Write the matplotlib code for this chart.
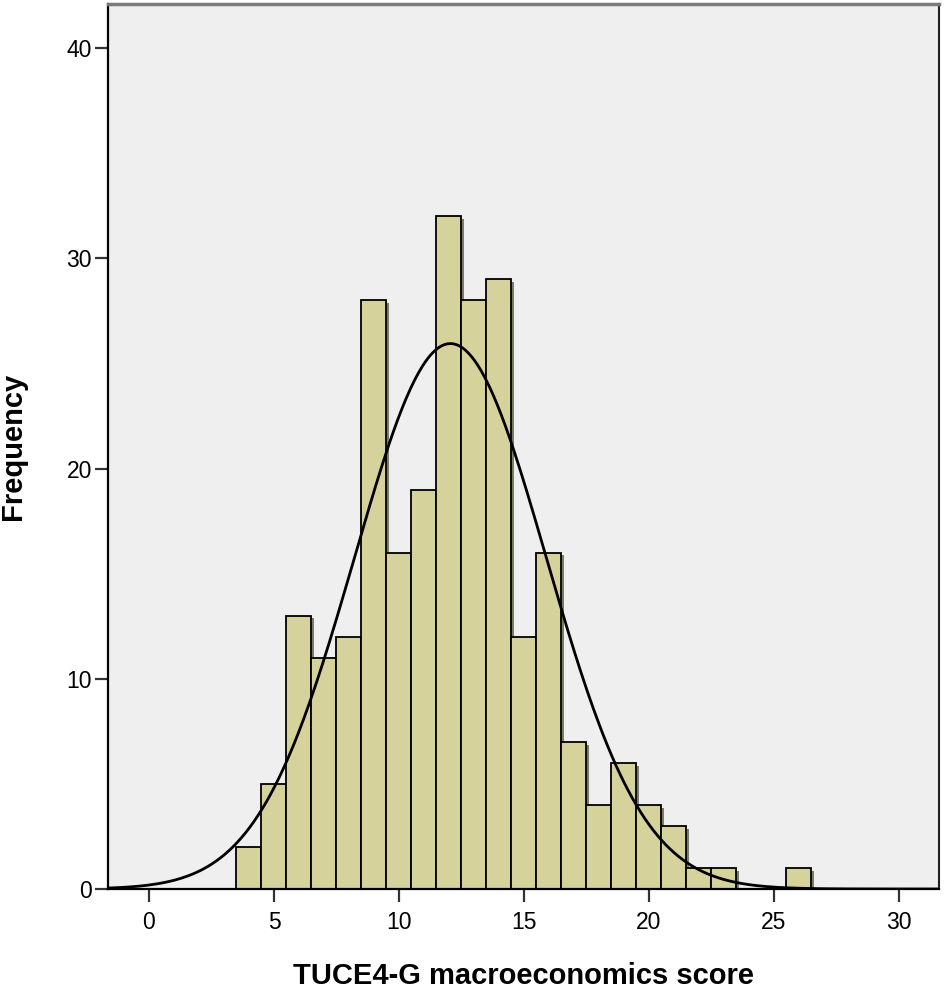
import numpy as np
import matplotlib
matplotlib.use("Agg")
import matplotlib.pyplot as plt
import matplotlib.patheffects as pe

plt.rcParams['font.family'] = ['Liberation Sans', 'DejaVu Sans']

# histogram bins (score) and counts
scores = [4, 5, 6, 7, 8, 9, 10, 11, 12, 13, 14, 15, 16, 17, 18, 19, 20, 21, 22, 23, 26]
counts = [2, 5, 13, 11, 12, 28, 16, 19, 32, 28, 29, 12, 16, 7, 4, 6, 4, 3, 1, 1, 1]
x_ticks = [0, 5, 10, 15, 20, 25, 30]
y_ticks = [0, 10, 20, 30, 40]

scores = np.array(scores)
counts = np.array(counts)
n = counts.sum()
mean = (scores * counts).sum() / n
sd = np.sqrt(((scores - mean) ** 2 * counts).sum() / (n - 1))

fig = plt.figure(figsize=(9.45, 9.89), dpi=100)
ax = fig.add_axes([108/945, 1 - 889/989, (939 - 108)/945, (889 - 4)/989])
ax.set_facecolor('#EFEFEF')

bars = ax.bar(scores, counts, width=1.0, color='#D5D29B', edgecolor='black', linewidth=1.3)
for b in bars:
    b.set_path_effects([pe.SimplePatchShadow(offset=(2, -2), shadow_rgbFace='#4a4a35', alpha=0.7), pe.Normal()])

# normal curve fitted to the histogram
xmin, xmax = -1.64, 31.6
xs = np.linspace(xmin, xmax, 400)
ys = n * 1.0 / (sd * np.sqrt(2 * np.pi)) * np.exp(-0.5 * ((xs - mean) / sd) ** 2)
ax.plot(xs, ys, color='black', linewidth=2.0)

ax.set_xlim(xmin, xmax)
ax.set_ylim(0, 42.1)
ax.set_xticks(x_ticks)
ax.set_yticks(y_ticks)
ax.tick_params(axis='both', labelsize=16.5, length=9.5, width=1.6, color='#333333')
ax.tick_params(axis='x', pad=6)
ax.tick_params(axis='y', pad=2)

ax.spines['left'].set_linewidth(1.6)
ax.spines['bottom'].set_linewidth(1.6)
ax.spines['top'].set_color('#7a7a7a')
ax.spines['top'].set_linewidth(2.5)
ax.spines['right'].set_color('#222222')
ax.spines['right'].set_linewidth(1.5)

ax.set_xlabel('TUCE4-G macroeconomics score', fontsize=21, fontweight='bold')
ax.set_ylabel('Frequency', fontsize=21, fontweight='bold')
ax.xaxis.set_label_coords(0.5, -0.083)
ax.yaxis.set_label_coords(-0.098, 0.5)

fig.savefig('out.png', dpi=100)
